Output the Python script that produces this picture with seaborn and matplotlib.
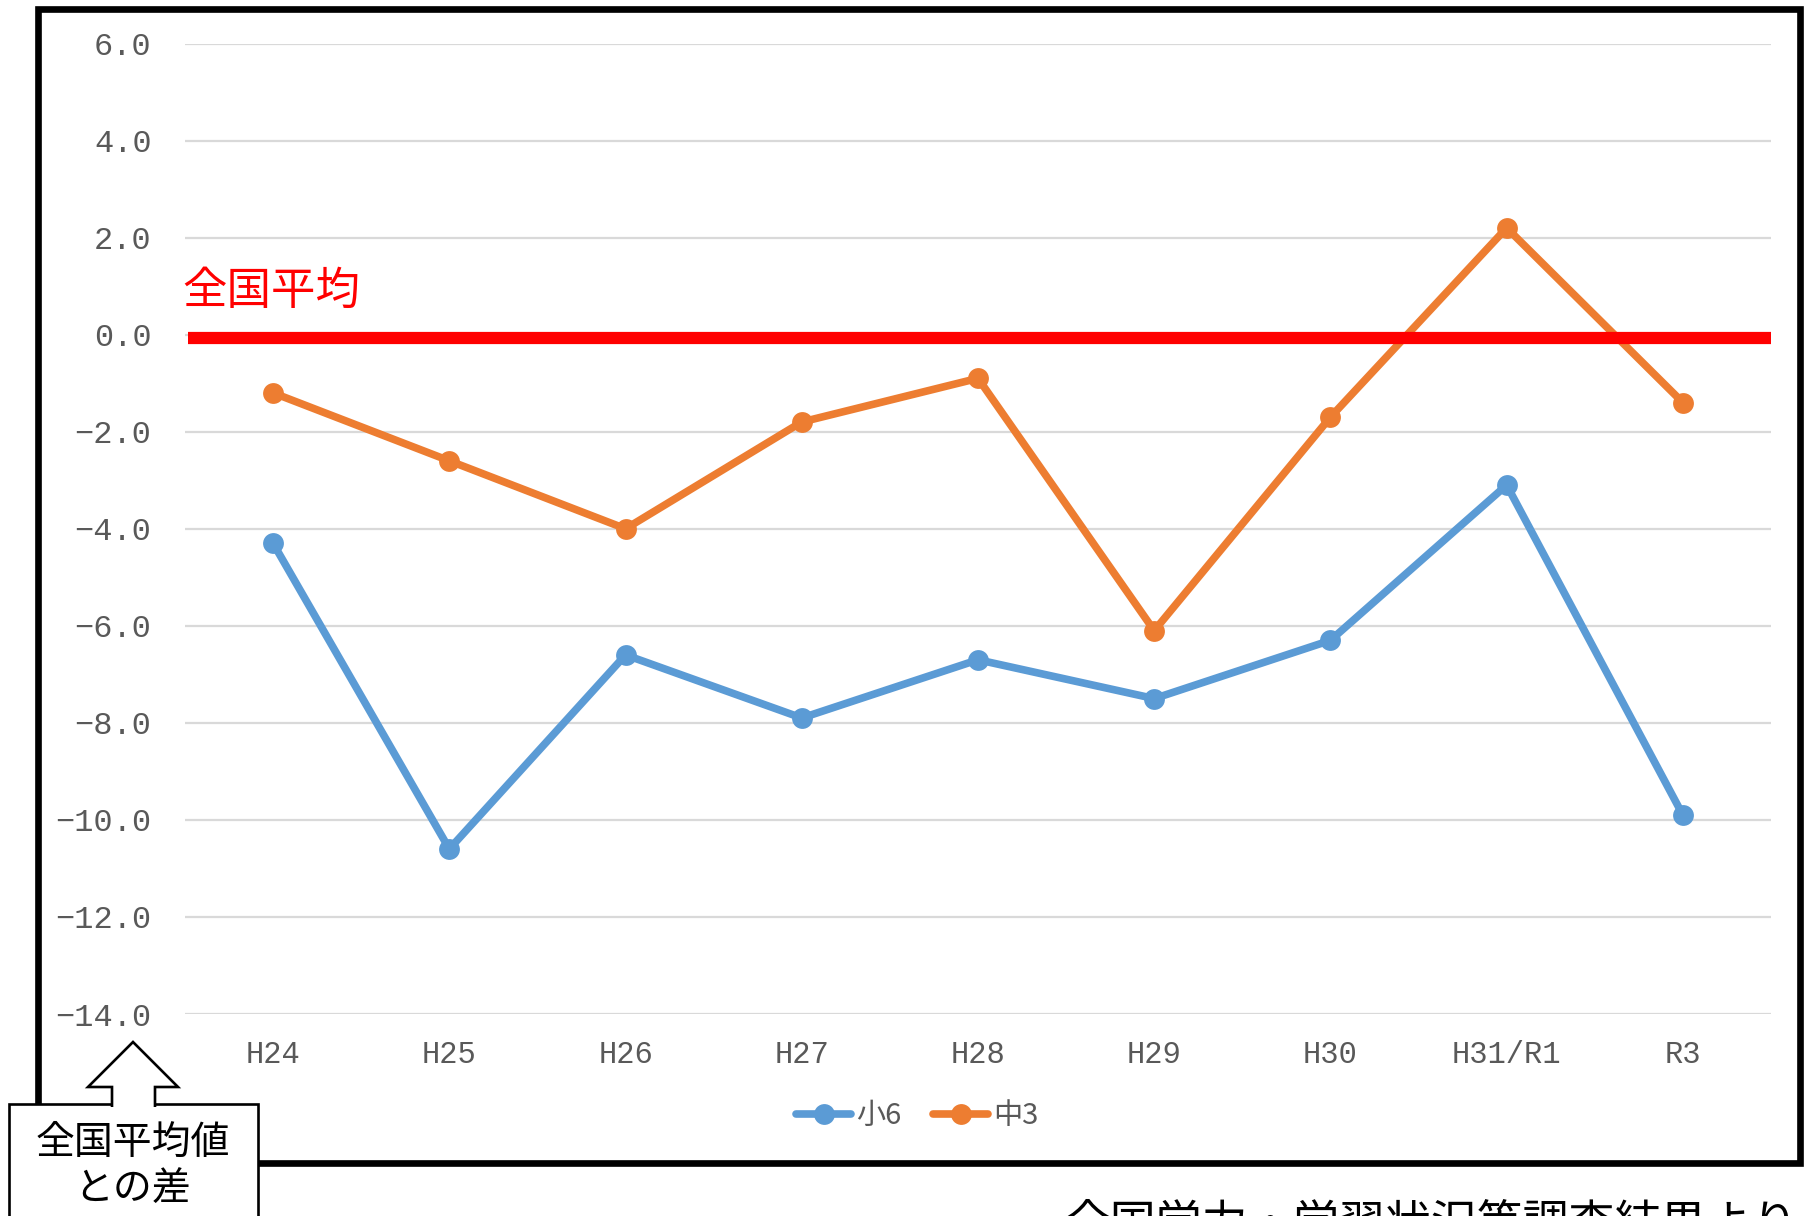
import matplotlib
matplotlib.use("Agg")
import matplotlib.pyplot as plt
import seaborn as sns
import pandas as pd
from matplotlib.patches import Rectangle, Polygon

# ---- data ----
years = ["H24", "H25", "H26", "H27", "H28", "H29", "H30", "H31/R1", "R3"]
sho6 = [-4.3, -10.6, -6.6, -7.9, -6.7, -7.5, -6.3, -3.1, -9.9]
chu3 = [-1.2, -2.6, -4.0, -1.8, -0.9, -6.1, -1.7, 2.2, -1.4]
series_names = ["小6", "中3"]
series_colors = ["#5B9BD5", "#ED7D31"]
yticks = [6, 4, 2, 0, -2, -4, -6, -8, -10, -12, -14]
national_avg_line = -0.07

df = pd.DataFrame({
    "year": years * 2,
    "value": sho6 + chu3,
    "grade": [series_names[0]] * len(years) + [series_names[1]] * len(years),
})

sns.set_theme(style="white")
plt.rcParams["font.family"] = ["Noto Sans CJK JP", "DejaVu Sans"]

W, H = 1809, 1216
fig = plt.figure(figsize=(W / 100, H / 100), dpi=100)
fig.patch.set_facecolor("white")


def fx(x):
    return x / W


def fy(y):
    return 1 - y / H


ax = fig.add_axes([fx(185), fy(1014), fx(1771) - fx(185), fy(43.5) - fy(1014)])
ax.set_facecolor("none")

sns.lineplot(data=df, x="year", y="value", hue="grade", palette=series_colors,
             marker="o", markersize=15, markeredgewidth=0, linewidth=5.5,
             sort=False, ax=ax, legend=True, zorder=3)

ax.axhline(national_avg_line, xmin=0.002, xmax=1.0, color="#FF0000",
           linewidth=8.8, zorder=4, solid_capstyle="butt")

ax.set_xlim(-0.5, len(years) - 0.5)
ax.set_ylim(-14, 6)
ax.set_yticks(yticks)
ax.set_yticklabels([f"{v:.1f}".replace("-", "−") for v in yticks],
                   family=["Liberation Mono", "DejaVu Sans"], fontsize=23, color="#595959")
ax.set_xticks(range(len(years)))
ax.set_xticklabels(years, family=["Liberation Mono", "DejaVu Sans"], fontsize=22, color="#595959")
ax.tick_params(axis="y", length=0, pad=24)
ax.tick_params(axis="x", length=0, pad=19)
ax.set_xlabel("")
ax.set_ylabel("")
ax.grid(axis="y", color="#D9D9D9", linewidth=1.6, zorder=0)
ax.grid(axis="x", visible=False)
for s in ax.spines.values():
    s.set_visible(False)

# legend
handles, labels = ax.get_legend_handles_labels()
ax.legend_.remove()
leg = fig.legend(handles, labels, loc="center", bbox_to_anchor=(fx(917), fy(1116)),
                 ncol=2, frameon=False, fontsize=21, handlelength=1.9,
                 handletextpad=0.15, columnspacing=1.1, labelcolor="#595959")

# red label
fig.text(fx(182), fy(291), "全国平均", color="#FF0000", fontsize=32,
         ha="left", va="center")

# chart frame
fig.patches.append(Rectangle((fx(37.5), fy(1162.5)), fx(1800) - fx(37.5),
                             fy(8.5) - fy(1162.5), transform=fig.transFigure,
                             fill=False, edgecolor="black", linewidth=4.8, zorder=5))

# callout box
fig.patches.append(Rectangle((fx(9), fy(1260)), fx(258) - fx(9), fy(1104) - fy(1260),
                             transform=fig.transFigure, facecolor="white",
                             edgecolor="black", linewidth=1.9, zorder=6))
arrow_pts = [(112, 1107), (112, 1087), (88, 1087), (133, 1042), (178, 1087),
             (155, 1087), (155, 1107)]
fig.patches.append(Polygon([(fx(x), fy(y)) for x, y in arrow_pts], closed=False,
                           transform=fig.transFigure, facecolor="white",
                           edgecolor="black", linewidth=1.9, zorder=7))
fig.text(fx(133), fy(1166), "全国平均値\nとの差", color="black", fontsize=28,
         ha="center", va="center", linespacing=1.18, zorder=8)

# source note (cut at the bottom edge, as in the reference)
fig.text(fx(1064), fy(1238), "全国学力・学習状況等調査結果より", color="black",
         fontsize=33, ha="left", va="baseline")

fig.savefig("out.png", dpi=100)
